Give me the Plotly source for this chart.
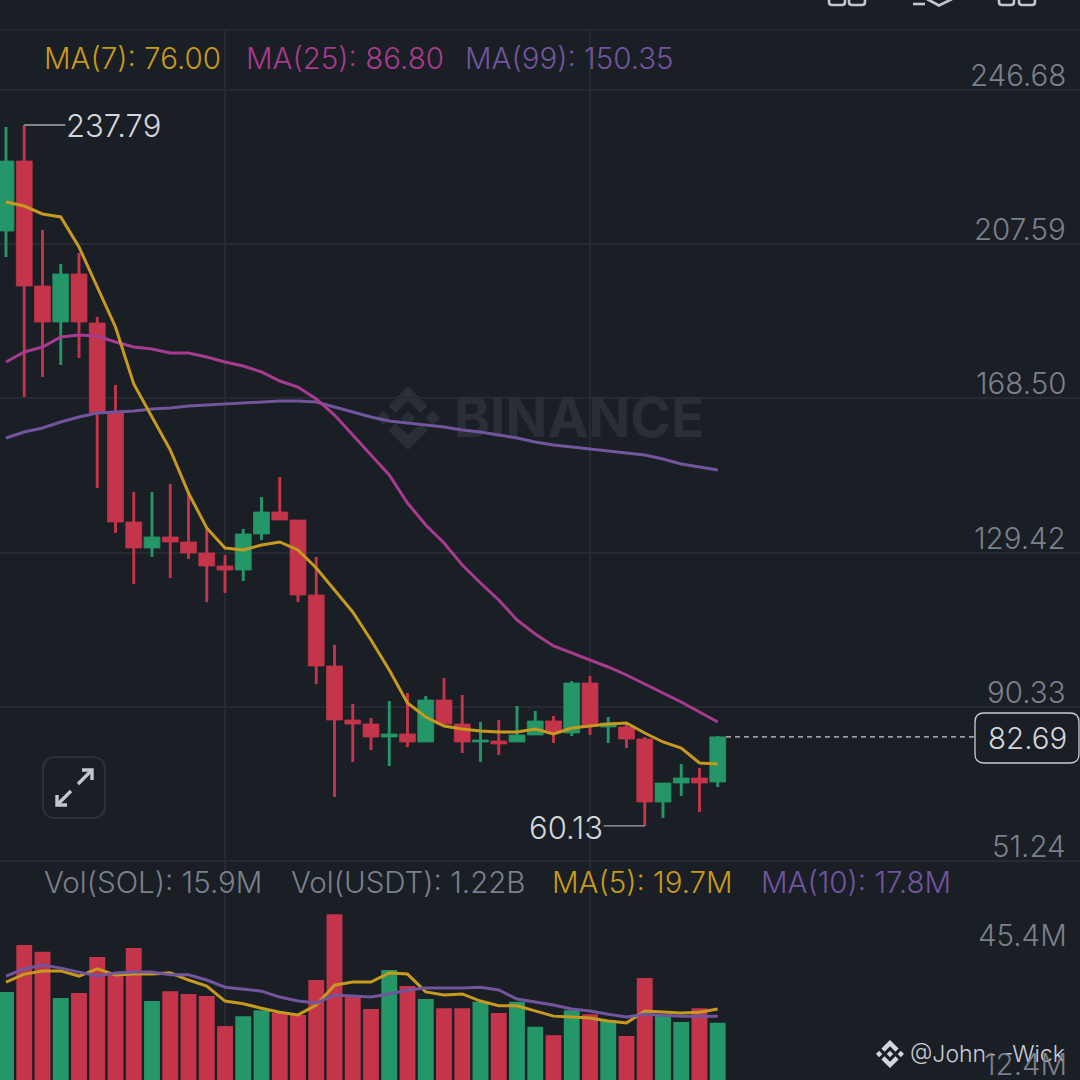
import plotly.graph_objects as go
from plotly.subplots import make_subplots

# candles, oldest first
opens = [210.93, 228.68, 196.99, 187.87, 200.04, 187.61, 164.80, 137.17, 130.58, 133.37,
         132.10, 129.31, 126.01, 124.99, 134.13, 139.70, 137.68, 118.66, 100.66, 86.97,
         85.96, 82.66, 83.43, 81.40, 92.04, 85.96, 81.40, 81.65, 81.40, 83.17,
         86.72, 83.68, 96.35, 85.20, 85.20, 82.15, 66.18, 71.00, 72.27, 71.26]
highs = [237.30, 237.79, 211.19, 202.57, 205.36, 189.13, 171.90, 144.77, 144.77, 146.80,
         144.27, 135.39, 128.80, 135.39, 143.50, 148.57, 137.68, 128.30, 106.00, 91.03,
         87.48, 91.79, 93.82, 93.06, 97.62, 93.31, 86.47, 86.97, 90.52, 89.25,
         87.99, 96.86, 98.13, 87.73, 86.21, 82.66, 71.00, 75.82, 74.81, 82.92]
lows = [204.34, 168.86, 173.92, 176.97, 178.74, 145.79, 134.38, 121.45, 128.30, 122.97,
        127.79, 116.89, 119.17, 122.21, 132.60, 137.68, 116.89, 96.10, 67.45, 76.33,
        79.37, 75.31, 80.13, 81.40, 85.96, 78.61, 76.33, 78.10, 81.40, 83.17,
        81.14, 82.92, 83.17, 81.14, 79.87, 60.13, 62.13, 67.70, 63.65, 69.99]
closes = [228.68, 196.99, 187.87, 200.04, 187.87, 164.80, 137.17, 130.58, 133.37, 132.10,
          129.31, 126.01, 124.99, 134.13, 139.70, 137.68, 118.66, 100.66, 86.97, 85.96,
          82.66, 83.43, 81.40, 92.04, 85.96, 81.40, 81.90, 80.89, 83.17, 86.72,
          83.68, 96.35, 85.45, 86.21, 82.15, 66.18, 71.00, 72.27, 71.00, 82.69]

ma7 = [218.29, 217.27, 215.25, 214.49, 206.88, 196.74, 186.60, 172.15, 163.79, 155.42,
       144.52, 135.65, 130.58, 130.07, 131.34, 132.10, 130.07, 125.51, 119.93, 114.35,
       107.26, 99.65, 91.29, 87.74, 85.45, 84.69, 84.19, 83.93, 83.93, 84.69,
       83.43, 84.95, 85.45, 85.96, 86.21, 83.68, 81.40, 79.87, 76.07, 75.82]
ma25 = [177.73, 180.26, 181.53, 184.07, 184.57, 184.32, 182.80, 181.53, 181.02, 180.01,
        180.01, 179.00, 177.73, 176.71, 175.19, 172.91, 171.39, 168.35, 164.29, 159.22,
        154.15, 149.08, 141.98, 136.41, 131.84, 126.27, 121.70, 117.39, 112.32, 108.78,
        105.73, 103.96, 102.18, 100.41, 98.38, 96.10, 93.82, 91.54, 89.00, 86.47]
ma99 = [158.46, 159.98, 160.99, 162.52, 163.79, 164.80, 165.05, 165.31, 165.81, 166.07,
        166.57, 166.83, 167.08, 167.33, 167.59, 167.84, 167.84, 167.59, 166.32, 165.05,
        163.79, 162.77, 162.27, 161.76, 161.25, 160.49, 159.98, 159.22, 158.46, 157.45,
        156.69, 156.18, 155.67, 155.17, 154.66, 154.15, 153.14, 151.87, 151.11, 150.35]

# volume in millions
volumes = [23.7, 35.5, 33.8, 22.2, 23.4, 32.5, 28.2, 34.8, 21.4, 23.9,
           23.2, 22.7, 15.1, 17.6, 19.1, 18.4, 17.9, 26.7, 43.3, 22.4,
           19.4, 29.2, 25.2, 21.9, 19.6, 19.6, 21.2, 18.4, 21.2, 14.9,
           12.8, 19.1, 18.1, 16.6, 12.6, 27.2, 17.9, 16.1, 19.6, 15.9]
vol_ma5 = [26.2, 28.2, 29.0, 29.0, 27.7, 29.5, 28.0, 28.2, 28.2, 28.5,
           26.7, 25.2, 21.4, 20.7, 19.6, 18.6, 17.9, 20.4, 25.4, 26.2,
           26.2, 28.5, 28.2, 23.7, 22.9, 23.2, 21.4, 20.2, 20.2, 18.9,
           17.6, 17.4, 17.1, 16.4, 15.9, 18.9, 18.6, 18.4, 18.6, 19.4]
vol_ma10 = [27.7, 29.5, 30.5, 29.7, 28.7, 27.7, 28.5, 28.7, 28.7, 28.0,
            28.0, 26.7, 24.9, 24.4, 23.9, 22.4, 21.4, 20.9, 22.9, 22.7,
            22.4, 23.2, 24.2, 24.7, 24.7, 24.7, 24.9, 24.2, 21.9, 21.2,
            20.4, 19.4, 18.9, 18.1, 17.4, 18.1, 17.9, 17.6, 17.6, 17.6]

price_ticks = [246.68, 207.59, 168.50, 129.42, 90.33, 51.24]
time_ticks = [12, 32]
last_price = 82.69
high_point = (1, 237.79)
low_point = (35, 60.13)

BG = "#1a1e25"
GRID = "#262a32"
GREEN = "#249668"
RED = "#c4344a"
GOLD = "#c69a1e"
PINK = "#a73b8e"
PURPLE = "#71559d"
MUTED = "#7b808a"
LIGHT = "#d3d6db"
ICON = "#c3c6cc"
FONT = "Inter"
TEXT_SIZE = 29.5
PEAK_SIZE = 31
TEXT_WEIGHT = 300


def fx(x):
    return x / 1080


def fy(y):
    return 1 - y / 1080


def poly(points):
    return "M" + " L".join(f"{fx(x):.5f},{fy(y):.5f}" for x, y in points)


def rounded(x0, y0, x1, y1, r):
    return (f"M{fx(x0 + r):.5f},{fy(y0):.5f} L{fx(x1 - r):.5f},{fy(y0):.5f} "
            f"Q{fx(x1):.5f},{fy(y0):.5f} {fx(x1):.5f},{fy(y0 + r):.5f} "
            f"L{fx(x1):.5f},{fy(y1 - r):.5f} Q{fx(x1):.5f},{fy(y1):.5f} {fx(x1 - r):.5f},{fy(y1):.5f} "
            f"L{fx(x0 + r):.5f},{fy(y1):.5f} Q{fx(x0):.5f},{fy(y1):.5f} {fx(x0):.5f},{fy(y1 - r):.5f} "
            f"L{fx(x0):.5f},{fy(y0 + r):.5f} Q{fx(x0):.5f},{fy(y0):.5f} {fx(x0 + r):.5f},{fy(y0):.5f} Z")


def logo_paths(cx, cy, radius):
    # the five pieces of the exchange logo, drawn on a 126.6 box
    pieces = [
        [(38.73, 53.2), (63.3, 28.63), (87.89, 53.22), (102.19, 38.92), (63.3, 0), (24.42, 38.9)],
        [(38.73, 73.4), (63.3, 97.97), (87.89, 73.38), (102.19, 87.68), (63.3, 126.6), (24.42, 87.7)],
        [(0, 63.3), (14.3, 49), (28.6, 63.3), (14.3, 77.6)],
        [(98, 63.3), (112.3, 49), (126.6, 63.3), (112.3, 77.6)],
        [(77.83, 63.3), (63.3, 48.73), (48.77, 63.3), (63.3, 77.82)],
    ]
    k = radius / 63.3
    return [poly([(cx + (x - 63.3) * k, cy + (y - 63.3) * k) for x, y in p]) + " Z" for p in pieces]


x = list(range(len(closes)))
bar_colors = [GREEN if c >= o else RED for o, c in zip(opens, closes)]

fig = make_subplots(rows=2, cols=1, shared_xaxes=True, vertical_spacing=0,
                    row_heights=[833, 217])

# watermark goes first so the lines sit on top of it
fig.add_trace(go.Scatter(x=[31.4], y=[162.3], mode="text", text=["BINANCE"],
                         textfont=dict(family=FONT, size=55, color="#2a2e36", weight=700),
                         hoverinfo="skip"), row=1, col=1)
# candlestick trace can't set its body width, so wicks and bodies are floating bars
fig.add_trace(go.Bar(x=x, y=[h - l for h, l in zip(highs, lows)], base=lows, width=0.16,
                     marker=dict(color=bar_colors, line_width=0), hoverinfo="skip"), row=1, col=1)
fig.add_trace(go.Bar(x=x, y=[abs(c - o) for o, c in zip(opens, closes)],
                     base=[min(o, c) for o, c in zip(opens, closes)], width=0.87,
                     marker=dict(color=bar_colors, line=dict(color=bar_colors, width=0.8)),
                     hoverinfo="skip"), row=1, col=1)
for series, color in [(ma99, PURPLE), (ma25, PINK), (ma7, GOLD)]:
    fig.add_trace(go.Scatter(x=x, y=series, mode="lines", hoverinfo="skip",
                             line=dict(color=color, width=3)), row=1, col=1)

# last price dashes and the high/low leaders
fig.add_trace(go.Scatter(x=[x[-1] + 0.45, 53.1], y=[last_price, last_price], mode="lines",
                         line=dict(color="#c9ccd2", width=1.3, dash="5px,4px"), hoverinfo="skip"),
              row=1, col=1)
fig.add_trace(go.Scatter(x=[high_point[0], high_point[0] + 2.25], y=[high_point[1]] * 2, mode="lines",
                         line=dict(color="#a3a7ae", width=1.4), hoverinfo="skip"), row=1, col=1)
fig.add_trace(go.Scatter(x=[low_point[0] - 2.25, low_point[0]], y=[low_point[1]] * 2, mode="lines",
                         line=dict(color="#a3a7ae", width=1.4), hoverinfo="skip"), row=1, col=1)

fig.add_trace(go.Bar(x=x, y=volumes, width=0.87, marker=dict(color=bar_colors, line_width=0),
                     hoverinfo="skip"), row=2, col=1)
fig.add_trace(go.Scatter(x=x, y=vol_ma5, mode="lines", line=dict(color=GOLD, width=3),
                         hoverinfo="skip"), row=2, col=1)
fig.add_trace(go.Scatter(x=x, y=vol_ma10, mode="lines", line=dict(color=PURPLE, width=3),
                         hoverinfo="skip"), row=2, col=1)

annotations = []


def label(px, py, text, color, anchor="left", size=TEXT_SIZE):
    annotations.append(dict(xref="paper", yref="paper", x=fx(px), y=fy(py), text=text,
                            showarrow=False, xanchor=anchor, yanchor="middle",
                            font=dict(family=FONT, size=size, color=color, weight=TEXT_WEIGHT),
                            borderpad=0, borderwidth=0))


label(44, 58, "MA(7): 76.00", GOLD)
label(246, 58, "MA(25): 86.80", PINK)
label(465, 58, "MA(99): 150.35", PURPLE)
label(44, 882, "Vol(SOL): 15.9M", MUTED)
label(291, 882, "Vol(USDT): 1.22B", MUTED)
label(552, 882, "MA(5): 19.7M", GOLD)
label(761, 882, "MA(10): 17.8M", PURPLE)

# price labels float above their grid lines
for tick in price_ticks:
    annotations.append(dict(xref="paper", yref="y", x=fx(1067.5), y=tick, yshift=15,
                            text=f"{tick:.2f}", showarrow=False, xanchor="right", yanchor="middle",
                            font=dict(family=FONT, size=TEXT_SIZE, color=MUTED, weight=TEXT_WEIGHT)))
label(1067, 935, "45.4M", MUTED, "right")
label(910, 1054, "@John- -Wick", "#c9ccd2", "left", 23)
label(1067, 1064, "12.4M", MUTED, "right")

annotations.append(dict(xref="x", yref="y", x=high_point[0] + 2.2, y=high_point[1], text="237.79",
                        showarrow=False, xanchor="left", yanchor="middle",
                        font=dict(family=FONT, size=PEAK_SIZE, color=LIGHT, weight=TEXT_WEIGHT)))
annotations.append(dict(xref="x", yref="y", x=low_point[0] - 2.2, y=low_point[1], yshift=-2, text="60.13",
                        showarrow=False, xanchor="right", yanchor="middle",
                        font=dict(family=FONT, size=PEAK_SIZE, color=LIGHT, weight=TEXT_WEIGHT)))
annotations.append(dict(xref="paper", yref="paper", x=fx(1027.5), y=fy(738), text=f"{last_price:.2f}",
                        showarrow=False, xanchor="center", yanchor="middle",
                        font=dict(family=FONT, size=TEXT_SIZE, color=LIGHT, weight=TEXT_WEIGHT)))

shapes = []


def shape(path, fill=None, line=None, width=0, layer="above"):
    shapes.append(dict(type="path", xref="paper", yref="paper", path=path, layer=layer,
                       fillcolor=fill or "rgba(0,0,0,0)",
                       line=dict(color=line or "rgba(0,0,0,0)", width=width)))


# top rule of the chart area
shape(poly([(0, 30), (1080, 30)]), line=GRID, width=1.5, layer="below")
# faint logo behind the lines
for p in logo_paths(408, 418, 32):
    shape(p, fill="#2a2e36", layer="below")
# small logo by the author tag
for p in logo_paths(890, 1054, 14):
    shape(p, fill="#d3d6db")
# last price box
shape(rounded(975, 713, 1079, 763, 9), fill=BG, line="#c9ccd2", width=1.3)
# expand button
shape(rounded(43, 757, 105, 818, 13), line="#2c3038", width=2.2)
for pts in [[(78, 784), (92, 770)], [(82, 770), (92, 770), (92, 780)],
            [(71, 791), (57, 805)], [(57, 795), (57, 805), (67, 805)]]:
    shape(poly(pts), line=ICON, width=3.4)
# toolbar icons cut off by the top edge
for x0, x1 in [(829, 845), (849, 865), (999, 1014), (1019, 1035)]:
    shape(rounded(x0, -20, x1, 5, 3), line=ICON, width=2.6)
shape(poly([(913, 4), (925, 4)]), line=ICON, width=2.6)
shape(poly([(927, -1), (939, 5.5), (952, -1)]), line=ICON, width=2.6)

fig.update_layout(
    width=1080, height=1080, margin=dict(l=0, r=0, t=0, b=0),
    paper_bgcolor=BG, plot_bgcolor=BG, showlegend=False, barmode="overlay",
    annotations=annotations, shapes=shapes,
    font=dict(family=FONT),
)
fig.update_yaxes(domain=[fy(863), fy(30)], range=[50.72, 261.89], tickvals=price_ticks,
                 showticklabels=False, gridcolor=GRID, gridwidth=1.5, zeroline=False,
                 showline=False, row=1, col=1)
fig.update_yaxes(domain=[0, fy(863)], range=[1.5, 56.2], showgrid=False, showticklabels=False,
                 zeroline=False, showline=False, row=2, col=1)
fig.update_xaxes(range=[-0.329, 58.85], tickvals=time_ticks, showticklabels=False, gridcolor=GRID,
                 gridwidth=1.5, zeroline=False, showline=False)

fig.write_html("out.html", config={"displayModeBar": False},
               post_script=f"document.body.style.margin='0';document.body.style.background='{BG}';")
